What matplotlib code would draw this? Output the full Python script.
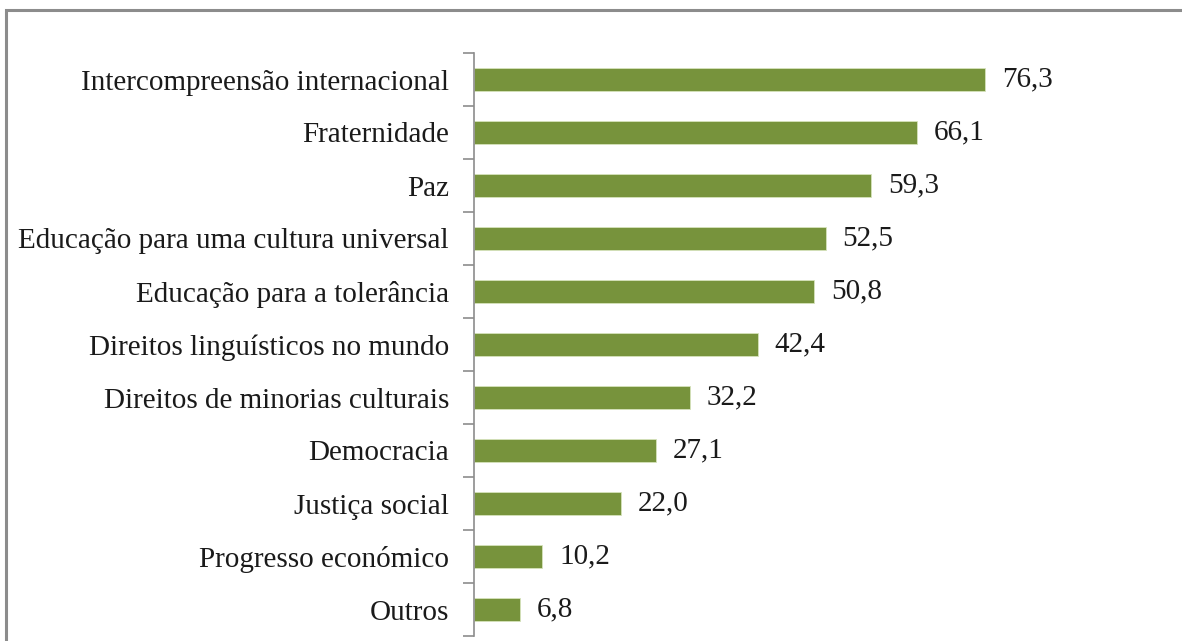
import matplotlib; matplotlib.use('agg')
import matplotlib.pyplot as plt
import numpy as np

categorias = ['Intercompreensão internacional', 'Fraternidade', 'Paz',
              'Educação para uma cultura universal', 'Educação para a tolerância',
              'Direitos linguísticos no mundo', 'Direitos de minorias culturais',
              'Democracia', 'Justiça social', 'Progresso económico', 'Outros']
valores = [76.3, 66.1, 59.3, 52.5, 50.8, 42.4, 32.2, 27.1, 22.0, 10.2, 6.8]

plt.rcParams['font.family'] = ['Liberation Serif', 'DejaVu Serif']

W, H = 1182, 641
fig = plt.figure(figsize=(W / 100, H / 100), dpi=100)

# moldura cinzenta (cortada à direita e em baixo)
frame = plt.Rectangle((6 / W, -0.1), 1.2, 1 - 10 / H + 0.1, transform=fig.transFigure,
                      fill=False, edgecolor='#8c8c8c', linewidth=2.2)
fig.patches.append(frame)

ax = fig.add_axes([474 / W, 1 - 636 / H, 680 / W, 583 / H])
y = np.arange(len(categorias))
ax.barh(y, valores, height=0.42, color='#77933C', edgecolor='#d6e3bc', linewidth=0.6)
for yi, v in zip(y, valores):
    ax.text(v + 2.5, yi, f'{v:.1f}'.replace('.', ','), va='center', ha='left',
            fontsize=21, color='#1a1a1a')

ax.set_ylim(len(categorias) - 0.5, -0.5)
ax.set_xlim(0, 101.5)
ax.set_yticks(y)
ax.set_yticklabels(categorias, fontsize=21, color='#1a1a1a')
ax.set_yticks(np.arange(len(categorias) + 1) - 0.5, minor=True)
ax.tick_params(axis='y', which='major', length=0, pad=18)
ax.tick_params(axis='y', which='minor', length=8, width=1.2, color='#8c8c8c')
ax.set_xticks([])
for s in ['top', 'right', 'bottom']:
    ax.spines[s].set_visible(False)
ax.spines['left'].set_color('#8c8c8c')
ax.spines['left'].set_linewidth(1.2)

fig.savefig('out.png', dpi=100)
